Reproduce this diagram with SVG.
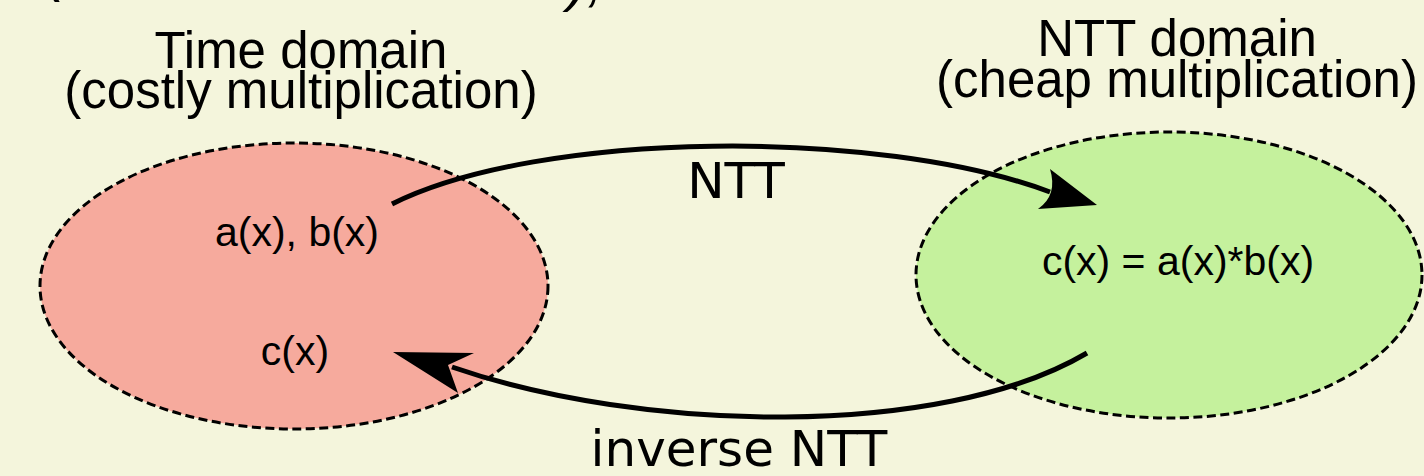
<svg xmlns="http://www.w3.org/2000/svg" width="1424" height="476" viewBox="0 0 1424 476">
  <style>
    .title { font-family: "Liberation Sans", Arial, sans-serif; font-size: 51px; fill: #000; text-anchor: middle; }
    .inner { font-family: "Liberation Sans", Arial, sans-serif; font-size: 41px; fill: #000; text-anchor: middle; }
    .edge { font-family: "DejaVu Sans", sans-serif; font-size: 50px; fill: #000; text-anchor: middle; }
    .frag { font-family: "Liberation Sans", Arial, sans-serif; font-size: 58px; font-style: italic; fill: #000; }
    .domain { stroke: #000; stroke-width: 3; stroke-dasharray: 9 4.5; }
    .conn { fill: none; stroke: #000; stroke-width: 5; }
    .head { fill: #000; stroke: none; }
  </style>
  <rect x="0" y="0" width="1424" height="476" fill="#f4f5dc"/>

  <g id="title-fragment">
    <text class="frag" x="46" y="-10">(</text>
    <text class="frag" x="568" y="0">),</text>
  </g>

  <g id="time-domain">
    <ellipse class="domain" cx="294" cy="286" rx="254" ry="143" fill="#f6aa9d"/>
    <text class="title" x="301" y="68">Time domain</text>
    <text class="title" x="301" y="108">(costly multiplication)</text>
    <text class="inner" x="297" y="246">a(x), b(x)</text>
    <text class="inner" x="295" y="365">c(x)</text>
  </g>

  <g id="ntt-domain">
    <ellipse class="domain" cx="1169" cy="275" rx="253" ry="143" fill="#c5f19d"/>
    <text class="title" x="1177" y="56">NTT domain</text>
    <text class="title" x="1177" y="97">(cheap multiplication)</text>
    <text class="inner" x="1178" y="275">c(x) = a(x)*b(x)</text>
  </g>

  <g id="connectors">
    <g id="edge-ntt">
      <path class="conn" d="M392,204 C540,130 880,128 1050,192"/>
      <path class="head" d="M1097,205 L1050,169 Q1058,195 1038,209 Z"/>
      <text class="edge" x="736" y="198">NTT</text>
    </g>
    <g id="edge-intt">
      <path class="conn" d="M1087,353 C940,440 640,432 452,367"/>
      <path class="head" d="M393,352 L474,353 L448,365 L458,393 Z"/>
      <text class="edge" x="739" y="466">inverse NTT</text>
    </g>
  </g>
</svg>
